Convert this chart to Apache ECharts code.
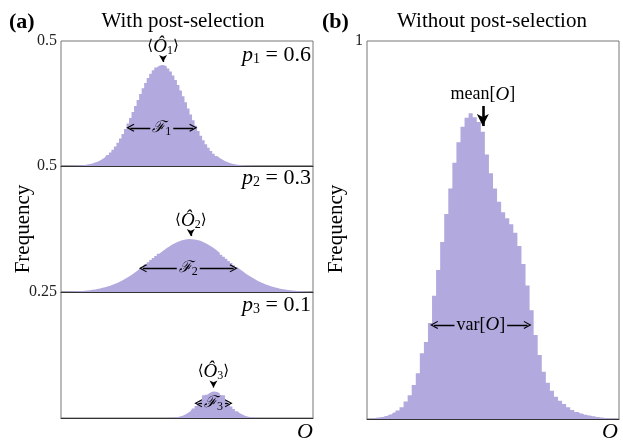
<!DOCTYPE html>
<html>
<head>
<meta charset="utf-8">
<script src="https://cdn.jsdelivr.net/npm/echarts@6/dist/echarts.min.js"></script>
<style>html,body{margin:0;padding:0;background:#fff}#main{width:623px;height:443px}</style>
</head>
<body>
<div id="main"></div>
<script>
// histogram bins (panel a: 100 bins, panel b: 62 bins)
var binsA = [];
for (var i = 0; i < 100; i++) binsA.push(String(i));
var binsB = [];
for (var j = 0; j < 62; j++) binsB.push(String(j));

// panel (a), p1 = 0.6
var freqP1 = [0.0002,0.0003,0.0004,0.0006,0.0009,0.0013,0.0018,0.0024,0.0033,0.0045,
  0.0060,0.0080,0.0105,0.0136,0.0175,0.0224,0.0282,0.0353,0.0437,0.0536,
  0.0651,0.0782,0.0932,0.1099,0.1282,0.1483,0.1698,0.1924,0.2160,0.2402,
  0.2644,0.2881,0.3111,0.3325,0.3519,0.3690,0.3830,0.3937,0.4007,0.4038,
  0.4030,0.3983,0.3898,0.3778,0.3625,0.3445,0.3242,0.3021,0.2788,0.2547,
  0.2305,0.2065,0.1833,0.1610,0.1401,0.1207,0.1030,0.0870,0.0728,0.0603,
  0.0494,0.0402,0.0323,0.0257,0.0203,0.0159,0.0123,0.0094,0.0071,0.0054,
  0.0040,0.0029,0.0021,0.0015,0.0011,0.0008,0.0005,0.0004,0.0003,0.0002,
  0.0001,0.0001,0.0001,0.0001,0,0,0,0,0,0,
  0,0,0,0,0,0,0,0,0,0];
// p2 = 0.3
var freqP2 = [0.0009,0.0011,0.0013,0.0017,0.0020,0.0025,0.0030,0.0036,0.0044,0.0052,
  0.0062,0.0074,0.0088,0.0103,0.0121,0.0142,0.0165,0.0190,0.0220,0.0252,
  0.0288,0.0328,0.0371,0.0419,0.0470,0.0525,0.0585,0.0648,0.0716,0.0787,
  0.0861,0.0938,0.1017,0.1099,0.1182,0.1265,0.1348,0.1432,0.1514,0.1593,
  0.1668,0.1742,0.1809,0.1872,0.1927,0.1976,0.2018,0.2051,0.2076,0.2092,
  0.2100,0.2098,0.2087,0.2067,0.2039,0.2002,0.1957,0.1906,0.1847,0.1783,
  0.1713,0.1639,0.1562,0.1481,0.1399,0.1315,0.1232,0.1148,0.1066,0.0985,
  0.0907,0.0831,0.0758,0.0688,0.0623,0.0561,0.0503,0.0449,0.0399,0.0353,
  0.0311,0.0273,0.0239,0.0207,0.0180,0.0155,0.0133,0.0114,0.0097,0.0082,
  0.0069,0.0058,0.0049,0.0041,0.0034,0.0028,0.0023,0.0019,0.0015,0.0012];
// p3 = 0.1
var freqP3 = [0,0,0,0,0,0,0,0,0,0,
  0,0,0,0,0,0,0,0,0,0,
  0,0,0,0,0,0,0,0,0,0,
  0,0,0,0,0,0,0,0,0,0,
  0.0001,0.0001,0.0003,0.0005,0.0008,0.0013,0.0021,0.0033,0.0050,0.0073,
  0.0103,0.0141,0.0187,0.0239,0.0296,0.0354,0.0410,0.0459,0.0497,0.0521,
  0.0528,0.0518,0.0491,0.0450,0.0399,0.0342,0.0284,0.0228,0.0177,0.0133,
  0.0096,0.0068,0.0046,0.0030,0.0019,0.0012,0.0007,0.0004,0.0002,0.0001,
  0,0,0,0,0,0,0,0,0,0,
  0,0,0,0,0,0,0,0,0,0];
// panel (b), without post-selection
var freqB = [0.0013,0.0019,0.0040,0.0053,0.0080,0.0120,0.0170,0.0225,0.0310,0.0460,
  0.0630,0.0900,0.1210,0.1740,0.2040,0.2540,0.3260,0.3940,0.4680,0.5420,
  0.6100,0.6780,0.7320,0.7730,0.7970,0.8090,0.7980,0.7860,0.7600,0.7000,
  0.6500,0.6100,0.5750,0.5470,0.5310,0.5150,0.4930,0.4580,0.4100,0.3530,
  0.2880,0.2220,0.1690,0.1250,0.0960,0.0750,0.0590,0.0480,0.0400,0.0310,
  0.0240,0.0185,0.0145,0.0114,0.0093,0.0071,0.0053,0.0040,0.0026,0.0019,
  0.0010,0.0005];

var yMaxA = [0.5, 0.5, 0.25];
var yTickA = ['0.5', '0.5', '0.25'];
var yMaxB = 1;
var yTickB = '1';
var pNames = ['1', '2', '3'];
var pValues = ['0.6', '0.3', '0.1'];

// annotation anchors (bin index / value)
var annA = [
  {peak: 40, top: 0.432, tip: 0.416, fl: 27, fr: 52, fy: 0.153},
  {peak: 51, top: 0.238, tip: 0.222, fl: 32, fr: 68, fy: 0.094},
  {peak: 60, top: 0.0694, tip: 0.0605, fl: 54, fr: 66, fy: 0.0292}
];
var annB = {peak: 28, top: 0.828, tip: 0.775, fl: 16, fr: 39, fy: 0.249};

var fill = '#b2aade';
var serif = '"Liberation Serif", "DejaVu Serif", serif';
var chevron = 'path://M5,0 L10,9 L8.9,9.7 L5,2.8 L1.1,9.7 L0,9 Z';

var rich = {
  t: {fontFamily: 'DejaVu Serif', fontSize: 15, color: '#000'},
  i: {fontFamily: serif, fontStyle: 'italic', fontSize: 19, color: '#000'},
  r: {fontFamily: serif, fontSize: 18, color: '#000'},
  f: {fontFamily: 'DejaVu Serif', fontStyle: 'italic', fontSize: 16, color: '#000'},
  s: {fontFamily: serif, fontSize: 12, color: '#000', padding: [8, 0, 0, 0], lineHeight: 13}
};

var myChart = echarts.init(document.getElementById('main'));

var grids = [], xAxes = [], yAxes = [], series = [];
var tops = [41, 166, 292], heights = [125, 126, 126];

function yAxisFor(idx, max, tick) {
  return {
    type: 'value', gridIndex: idx, min: 0, max: max, interval: max,
    axisLine: {show: false}, axisTick: {show: false}, splitLine: {show: false},
    axisLabel: {
      margin: 4, fontFamily: serif, fontSize: 16, color: '#222',
      formatter: function (v) { return v === max ? tick : ''; }
    }
  };
}
function xAxisFor(idx, cats) {
  return {
    type: 'category', gridIndex: idx, data: cats, boundaryGap: true,
    axisLine: {show: true, lineStyle: {color: '#333', width: 1}},
    axisTick: {show: false}, axisLabel: {show: false}, splitLine: {show: false}
  };
}
function marks(a, hat, wide) {
  return {
    silent: true, animation: false, precision: 4,
    lineStyle: {color: '#000', width: 1.3, type: 'solid'},
    emphasis: {disabled: true},
    data: [
      [{coord: [a.peak, a.top], symbol: 'none',
        lineStyle: {width: wide ? 2.6 : 1.3},
        label: {show: true, position: 'start', distance: 2, formatter: hat, rich: rich}},
       {coord: [a.peak, a.tip], symbol: 'arrow', symbolSize: wide ? [9, 12] : [6, 7]}],
      [{coord: [a.fl, a.fy], symbol: chevron, symbolSize: [8, 8],
        label: {show: true, position: 'insideMiddle', formatter: a.text, rich: rich,
                backgroundColor: fill, padding: [0, 2]}},
       {coord: [a.fr, a.fy], symbol: chevron, symbolSize: [8, 8]}]
    ]
  };
}
// histogram drawn as a stepped filled area (no seams between bins)
function histSeries(idx, data, ml) {
  return {
    type: 'line', xAxisIndex: idx, yAxisIndex: idx, data: data,
    step: 'middle', showSymbol: false, symbol: 'none', silent: true,
    lineStyle: {width: 0, color: fill}, areaStyle: {color: fill, opacity: 1},
    markLine: ml
  };
}

var freqsA = [freqP1, freqP2, freqP3];
for (var k = 0; k < 3; k++) {
  grids.push({left: 61, top: tops[k], width: 252, height: heights[k],
    show: true, borderColor: '#777', borderWidth: 1});
  xAxes.push(xAxisFor(k, binsA));
  yAxes.push(yAxisFor(k, yMaxA[k], yTickA[k]));
  annA[k].text = '{f|ℱ}{s|' + pNames[k] + '}';
  series.push(histSeries(k, freqsA[k],
    marks(annA[k], '{t|⟨}{i|Ô}{s|' + pNames[k] + '}{t|⟩}', false)));
}
grids.push({left: 367, top: 41, width: 252, height: 378,
  show: true, borderColor: '#777', borderWidth: 1});
xAxes.push(xAxisFor(3, binsB));
yAxes.push(yAxisFor(3, yMaxB, yTickB));
annB.text = '{r|var[}{i|O}{r|]}';
series.push(histSeries(3, freqB, marks(annB, '{r|mean[}{i|O}{r|]}', true)));

var graphics = [
  {type: 'text', x: 9, y: 22, style: {text: '(a)', font: 'bold 22px ' + serif, fill: '#000', verticalAlign: 'middle'}},
  {type: 'text', x: 183, y: 21, style: {text: 'With post-selection', font: '21px ' + serif, fill: '#000', align: 'center', verticalAlign: 'middle'}},
  {type: 'text', x: 322, y: 22, style: {text: '(b)', font: 'bold 22px ' + serif, fill: '#000', verticalAlign: 'middle'}},
  {type: 'text', x: 492, y: 21, style: {text: 'Without post-selection', font: '21px ' + serif, fill: '#000', align: 'center', verticalAlign: 'middle'}},
  {type: 'text', x: 23, y: 229, rotation: Math.PI / 2, style: {text: 'Frequency', font: '21px ' + serif, fill: '#000', align: 'center', verticalAlign: 'middle'}},
  {type: 'text', x: 336, y: 229, rotation: Math.PI / 2, style: {text: 'Frequency', font: '21px ' + serif, fill: '#000', align: 'center', verticalAlign: 'middle'}},
  {type: 'text', x: 305, y: 432, style: {text: 'O', font: 'italic 22px ' + serif, fill: '#000', align: 'center', verticalAlign: 'middle'}},
  {type: 'text', x: 610, y: 432, style: {text: 'O', font: 'italic 22px ' + serif, fill: '#000', align: 'center', verticalAlign: 'middle'}}
];
var pY = [55, 178, 305];
for (var m = 0; m < 3; m++) {
  graphics.push({type: 'text', x: 311, y: pY[m], style: {
    text: '{i|p}{s|' + pNames[m] + '}{r| = ' + pValues[m] + '}',
    align: 'right', verticalAlign: 'middle',
    rich: {
      i: {fontFamily: serif, fontStyle: 'italic', fontSize: 22, color: '#000'},
      r: {fontFamily: serif, fontSize: 22, color: '#000'},
      s: {fontFamily: serif, fontSize: 14, color: '#000', padding: [9, 0, 0, 0], lineHeight: 15}
    }
  }});
}

var option = {
  animation: false,
  grid: grids,
  xAxis: xAxes,
  yAxis: yAxes,
  series: series,
  graphic: graphics
};
myChart.setOption(option);
</script>
</body>
</html>
